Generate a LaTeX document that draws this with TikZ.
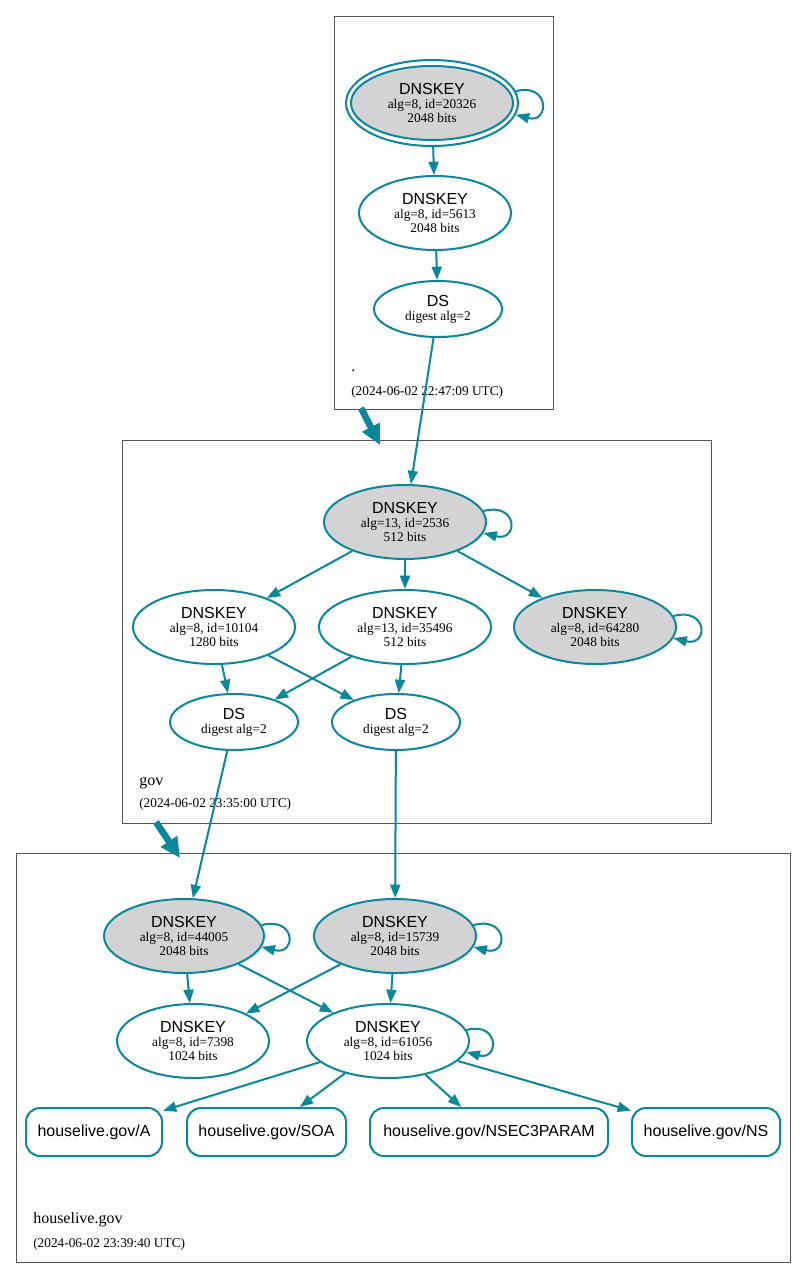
\documentclass[tikz,border=0pt]{standalone}
\usepackage{fontspec}
\setmainfont{Liberation Serif}
\setsansfont{Liberation Sans}
\usetikzlibrary{shapes.geometric,arrows.meta}
\definecolor{dteal}{HTML}{0A879A}
\definecolor{kgray}{HTML}{D3D3D3}
\definecolor{cborder}{HTML}{555555}
\newcommand{\hd}[1]{{\sffamily\fontsize{12}{12}\selectfont #1}}
\begin{document}
\begin{tikzpicture}[x=0.75pt,y=-0.75pt,
  key/.style={ellipse,draw=dteal,line width=1.5pt,inner sep=0pt,align=center,
    font=\fontsize{10}{10.5}\selectfont,minimum width=121.5pt,minimum height=55.5pt},
  ksk/.style={key,fill=kgray},
  dsnode/.style={key,minimum width=96pt,minimum height=42pt},
  rrset/.style={rectangle,rounded corners=10.5pt,draw=dteal,line width=1.5pt,inner sep=0pt,
    minimum height=36pt,font=\sffamily\fontsize{12}{12}\selectfont},
  edge/.style={draw=dteal,line width=1.5pt,-{Triangle[length=10pt,width=7.5pt]}},
  deleg/.style={draw=dteal,line width=5pt,-{Triangle[length=15pt,width=14pt]}},
  cluster/.style={draw=cborder,line width=0.75pt},
  zname/.style={anchor=base west,inner sep=0pt,font=\fontsize{12}{12}\selectfont},
  ztime/.style={anchor=base west,inner sep=0pt,font=\fontsize{10}{10}\selectfont}]
\useasboundingbox (0,0) rectangle (807,1278);
\fill[white] (0,0) rectangle (807,1278);

% clusters
\draw[cluster] (334,16) rectangle (553,409);
\draw[cluster] (122,440) rectangle (711,823);
\draw[cluster] (16,853) rectangle (790,1262);
\node[zname] (lroot) at (351,371) {.};
\node[ztime] (troot) at (351,395) {(2024-06-02 22:47:09 UTC)};
\node[zname] (lgov) at (139,785) {gov};
\node[ztime] (tgov) at (139,807) {(2024-06-02 23:35:00 UTC)};
\node[zname] (lhl) at (33,1223) {houselive.gov};
\node[ztime] (thl) at (33,1247) {(2024-06-02 23:39:40 UTC)};

% root zone
\node[ellipse,draw=dteal,line width=1.5pt,minimum width=129pt,minimum height=64.5pt] (k20326) at (432,103) {};
\node[ksk] (k20326in) at (432,103) {\hd{DNSKEY}\\alg=8, id=20326\\2048 bits};
\node[key,minimum width=114pt] (k5613) at (435,213) {\hd{DNSKEY}\\alg=8, id=5613\\2048 bits};
\node[dsnode] (dsroot) at (438,309) {\hd{DS}\\digest alg=2};

% gov zone
\node[ksk] (k2536) at (405,522) {\hd{DNSKEY}\\alg=13, id=2536\\512 bits};
\node[key] (k10104) at (214,627) {\hd{DNSKEY}\\alg=8, id=10104\\1280 bits};
\node[key,minimum width=129pt] (k35496) at (405,627) {\hd{DNSKEY}\\alg=13, id=35496\\512 bits};
\node[ksk] (k64280) at (595,627) {\hd{DNSKEY}\\alg=8, id=64280\\2048 bits};
\node[dsnode] (dsl) at (234,722) {\hd{DS}\\digest alg=2};
\node[dsnode] (dsr) at (396,722) {\hd{DS}\\digest alg=2};

% houselive.gov zone
\node[ksk,minimum width=120pt] (k44005) at (184,936) {\hd{DNSKEY}\\alg=8, id=44005\\2048 bits};
\node[ksk] (k15739) at (395,936) {\hd{DNSKEY}\\alg=8, id=15739\\2048 bits};
\node[key,minimum width=114pt] (k7398) at (193,1041) {\hd{DNSKEY}\\alg=8, id=7398\\1024 bits};
\node[key] (k61056) at (388,1041) {\hd{DNSKEY}\\alg=8, id=61056\\1024 bits};
\node[rrset,minimum width=102pt] (rA) at (94,1132) {houselive.gov/A};
\node[rrset,minimum width=119.25pt] (rSOA) at (266.5,1132) {houselive.gov/SOA};
\node[rrset,minimum width=178.5pt] (rN3P) at (489,1132) {houselive.gov/NSEC3PARAM};
\node[rrset,minimum width=111pt] (rNS) at (706,1132) {houselive.gov/NS};

% delegation arrows
\coordinate (d1s) at (361,408);
\coordinate (d1e) at (380,445);
\coordinate (d2s) at (156,822);
\coordinate (d2e) at (180,858);
\draw[deleg] (d1s) -- (d1e);
\draw[deleg] (d2s) -- (d2e);

% self loops
\draw[edge] (k20326.8) .. controls +(34,-9) and +(34,9) .. (k20326.-8);
\draw[edge] (k2536.8) .. controls +(35,-9) and +(35,9) .. (k2536.-8);
\draw[edge] (k64280.8) .. controls +(35,-9) and +(35,9) .. (k64280.-8);
\draw[edge] (k44005.8) .. controls +(35,-9) and +(35,9) .. (k44005.-8);
\draw[edge] (k15739.8) .. controls +(35,-9) and +(35,9) .. (k15739.-8);
\draw[edge] (k61056.8) .. controls +(33,-9) and +(33,9) .. (k61056.-8);

% edges
\draw[edge] (k20326) -- (k5613);
\draw[edge] (k5613) -- (dsroot);
\draw[edge] (dsroot) -- (k2536);
\draw[edge] (k2536) -- (k10104);
\draw[edge] (k2536) -- (k35496);
\draw[edge] (k2536) -- (k64280);
\draw[edge] (k10104) -- (dsl);
\draw[edge] (k10104) -- (dsr);
\draw[edge] (k35496) -- (dsl);
\draw[edge] (k35496) -- (dsr);
\draw[edge] (dsl) -- (k44005);
\draw[edge] (dsr) -- (k15739);
\draw[edge] (k44005) -- (k7398);
\draw[edge] (k44005) -- (k61056);
\draw[edge] (k15739) -- (k7398);
\draw[edge] (k15739) -- (k61056);
\draw[edge] (k61056) -- (rA);
\draw[edge] (k61056) -- (rSOA);
\draw[edge] (k61056) -- (rN3P);
\draw[edge] (k61056) -- (rNS);
\end{tikzpicture}
\end{document}
